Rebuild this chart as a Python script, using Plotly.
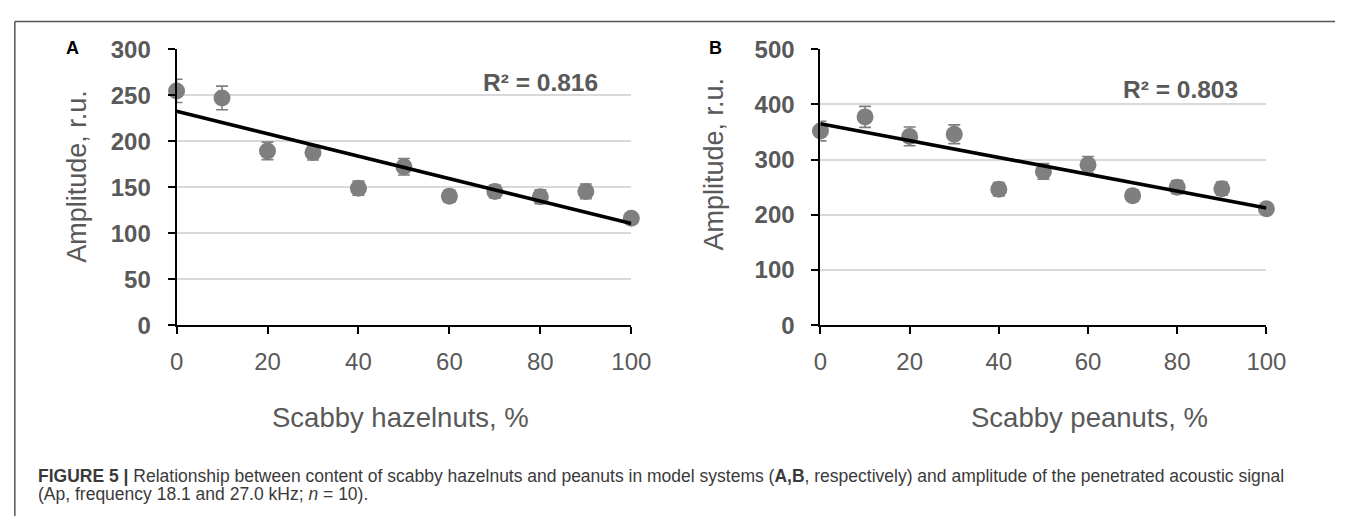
import plotly.graph_objects as go
import numpy as np

# ---------------- data ----------------
scabby_pct = [0, 10, 20, 30, 40, 50, 60, 70, 80, 90, 100]

hazelnut_amp = [254.6, 247.0, 189.4, 187.6, 148.9, 172.2, 140.2, 145.4, 139.6, 145.4, 116.2]
hazelnut_err = [12.6, 12.8, 9.5, 8.0, 7.7, 9.0, 6.5, 7.0, 7.5, 8.0, 3.0]
hazelnut_r2 = "R² = 0.816"

peanut_amp = [351.6, 377.3, 341.9, 345.8, 246.2, 278.6, 290.6, 234.7, 250.0, 247.3, 210.8]
peanut_err = [17.7, 19.0, 17.0, 17.0, 12.0, 14.0, 15.0, 10.0, 12.0, 12.0, 5.0]
peanut_r2 = "R² = 0.803"

x_ticks = [0, 20, 40, 60, 80, 100]
hazel_y_ticks = [0, 50, 100, 150, 200, 250, 300]
peanut_y_ticks = [0, 100, 200, 300, 400, 500]

# ---------------- layout helpers ----------------
W, H = 1355, 529
def px(x):
    return x / W
def py(y):
    return 1 - y / H

FONT = "Liberation Sans, Arial, sans-serif"
GREY_TXT = "#595959"
MARK = "#7f7f7f"

fig = go.Figure()

def add_panel(xa, ya, xs, ys, errs):
    fig.add_trace(go.Scatter(
        x=xs, y=ys, mode="markers", xaxis=xa, yaxis=ya,
        marker=dict(size=17, color=MARK),
        error_y=dict(type="data", array=errs, visible=True, color=MARK,
                     thickness=1.6, width=6),
        cliponaxis=False, showlegend=False, hoverinfo="x+y"))
    coef = np.polyfit(xs, ys, 1)
    tx = [min(xs), max(xs)]
    ty = [coef[0] * v + coef[1] for v in tx]
    fig.add_trace(go.Scatter(
        x=tx, y=ty, mode="lines", xaxis=xa, yaxis=ya,
        line=dict(color="black", width=3.6),
        cliponaxis=False, showlegend=False, hoverinfo="skip"))

add_panel("x", "y", scabby_pct, hazelnut_amp, hazelnut_err)
add_panel("x2", "y2", scabby_pct, peanut_amp, peanut_err)

y_top, y_bot = 37, 328
xA0, xA1 = 173, 637
xB0, xB1 = 830, 1285

xaxis_common = dict(
    range=[0, 100], tickvals=x_ticks, showgrid=False, zeroline=False,
    showline=True, linecolor="black", linewidth=2,
    ticks="outside", ticklen=7, tickwidth=2, tickcolor="black",
    tickfont=dict(family=FONT, size=24, color=GREY_TXT),
    ticklabelstandoff=7, fixedrange=True)
yaxis_common = dict(
    showgrid=True, gridcolor="#d9d9d9", gridwidth=2, zeroline=False,
    showline=True, linecolor="black", linewidth=2,
    ticks="outside", ticklen=7, tickwidth=2, tickcolor="black",
    tickfont=dict(family=FONT, size=24, color=GREY_TXT, weight="bold"),
    ticklabelstandoff=12, fixedrange=True)

fig.update_layout(
    width=W, height=H, margin=dict(l=0, r=0, t=0, b=0),
    paper_bgcolor="white", plot_bgcolor="white",
    xaxis=dict(domain=[px(xA0), px(xA1)], anchor="y", **xaxis_common),
    yaxis=dict(domain=[py(y_bot), py(y_top)], anchor="x", range=[0, 300],
               tickvals=hazel_y_ticks, **yaxis_common),
    xaxis2=dict(domain=[px(xB0), px(xB1)], anchor="y2", **xaxis_common),
    yaxis2=dict(domain=[py(y_bot), py(y_top)], anchor="x2", range=[0, 500],
                tickvals=peanut_y_ticks, **yaxis_common),
)

ann = []
def text(x, y, s, size, color, bold=False, angle=0, xanchor="center", fam=FONT):
    ann.append(dict(x=px(x), y=py(y), xref="paper", yref="paper", text=s,
                    showarrow=False, textangle=angle, xanchor=xanchor, yanchor="middle",
                    font=dict(family=fam, size=size, color=color,
                              weight="bold" if bold else "normal")))

# panel letters
text(67, 36, "A", 18, "black", bold=True)
text(723, 36, "B", 18, "black", bold=True)
# R² labels
text(544, 72, hazelnut_r2, 24.5, GREY_TXT, bold=True)
text(1197, 80, peanut_r2, 24.5, GREY_TXT, bold=True)
# y axis titles
text(72, 171, "Amplitude, r.u.", 27, GREY_TXT, angle=-90)
text(721, 158, "Amplitude, r.u.", 27, GREY_TXT, angle=-90)
# x axis titles
text(402, 425, "Scabby hazelnuts, %", 27.5, GREY_TXT)
text(1104, 425, "Scabby peanuts, %", 27.5, GREY_TXT)
# caption
cap1 = ("<b>FIGURE 5 |</b> Relationship between content of scabby hazelnuts and peanuts in model "
        "systems (<b>A,B</b>, respectively) and amplitude of the penetrated acoustic signal")
cap2 = "(Ap, frequency 18.1 and 27.0 kHz; <i>n</i> = 10)."
text(30, 487, cap1, 17.5, "#3a3a3a", xanchor="left")
text(30, 506, cap2, 17.5, "#3a3a3a", xanchor="left")

fig.update_layout(annotations=ann)

# frame lines
fig.add_shape(type="line", xref="paper", yref="paper", x0=px(8), x1=1, y0=py(8), y1=py(8),
              line=dict(color="#555555", width=1.5))
fig.add_shape(type="line", xref="paper", yref="paper", x0=px(8), x1=px(8), y0=py(8), y1=0,
              line=dict(color="#555555", width=1.5))

fig.write_html("out.html",
               post_script="document.body.style.margin='0';document.body.style.overflow='hidden';")
